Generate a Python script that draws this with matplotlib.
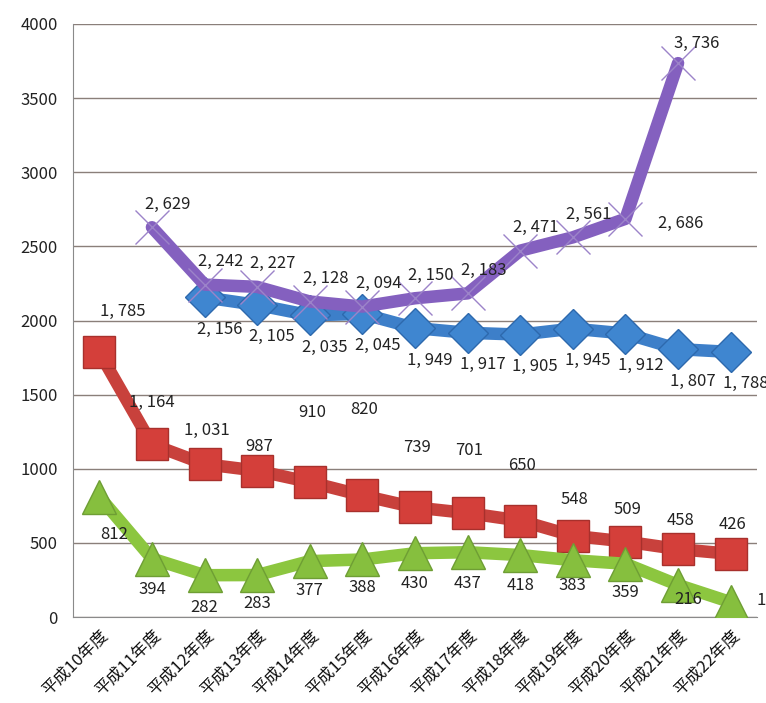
import numpy as np
import matplotlib
matplotlib.use("Agg")
import matplotlib.pyplot as plt

plt.rcParams['font.family'] = ['Noto Sans CJK JP', 'DejaVu Sans']

years = ["平成10年度", "平成11年度", "平成12年度", "平成13年度", "平成14年度",
         "平成15年度", "平成16年度", "平成17年度", "平成18年度", "平成19年度",
         "平成20年度", "平成21年度", "平成22年度"]

# None = no value that year
purple_vals = [None, 2629, 2242, 2227, 2128, 2094, 2150, 2183, 2471, 2561, 2686, 3736, None]
blue_vals = [None, None, 2156, 2105, 2035, 2045, 1949, 1917, 1905, 1945, 1912, 1807, 1788]
red_vals = [1785, 1164, 1031, 987, 910, 820, 739, 701, 650, 548, 509, 458, 426]
green_vals = [812, 394, 282, 283, 377, 388, 430, 437, 418, 383, 359, 216, 100]

# label offsets in pixels (dx, dy), hand placed like in the original
red_off = [(23, 41), (0, 42), (2, 34), (2, 24), (2, 70), (2, 86), (2, 60), (2, 63),
           (2, 55), (2, 36), (2, 32), (2, 29), (2, 29)]
green_off = [(15, -38), (0, -31), (0, -32), (0, -28), (0, -29), (0, -28), (0, -30),
             (0, -31), (0, -30), (0, -25), (0, -29), (10, -15), (40, 2)]

def fmt(v):
    return f"{v:,}".replace(",", ", ")

def series(vals):
    x = [i for i, v in enumerate(vals) if v is not None]
    y = [v for v in vals if v is not None]
    return np.array(x), np.array(y)

fig = plt.figure(figsize=(7.66, 7.03), dpi=100)
ax = fig.add_axes([73/766, 86/703, 684/766, 593/703])

ax.set_xlim(-0.5, len(years) - 0.5)
ax.set_ylim(0, 4000)
ax.set_yticks(np.arange(0, 4001, 500))
ax.yaxis.grid(True, color='#8a7f7a', lw=1.0)
ax.set_axisbelow(True)
for s in ['top', 'right']:
    ax.spines[s].set_visible(False)
ax.spines['left'].set_color('#8a8a8a')
ax.spines['bottom'].set_color('#8a8a8a')
ax.tick_params(length=0)
ax.tick_params(axis='y', labelsize=12, pad=11, labelcolor='#222222')
ax.tick_params(axis='x', pad=7)

ax.set_xticks(range(len(years)))
ax.set_xticklabels(years, rotation=45, ha='right', va='top',
                   rotation_mode='anchor', fontsize=12, color='#111111')

# red then green
x, y = series(red_vals)
ax.plot(x, y, color='#c8413c', lw=9, solid_capstyle='round', zorder=3)
ax.plot(x, y, ls='none', marker='s', ms=23, mfc='#d43f3a', mec='#a8302c', mew=1, zorder=4)
x, y = series(green_vals)
ax.plot(x, y, color='#8cc63f', lw=9, solid_capstyle='round', zorder=5)
ax.plot(x, y, ls='none', marker='^', ms=25, mfc='#86bf3e', mec='#6e9e34', mew=1, zorder=6)

# blue then purple
x, y = series(blue_vals)
ax.plot(x, y, color='#3d7fc9', lw=9, solid_capstyle='round', zorder=7)
ax.plot(x, y, ls='none', marker='D', ms=20, mfc='#3f86d0', mec='#2d69ad', mew=1, zorder=8)
x, y = series(purple_vals)
ax.plot(x, y, color='#8460bf', lw=9, solid_capstyle='round', zorder=9)
ax.plot(x, y, ls='none', marker='x', ms=24, mec='#9c83c9', mew=1, zorder=10)

lab_kw = dict(fontsize=12, color='#222222', ha='center', va='center',
              textcoords='offset pixels', zorder=20, clip_on=False)

for i, v in enumerate(purple_vals):
    if v is None:
        continue
    if i == 10:
        off = (55, -5)
    elif i == 11:
        off = (19, 20)
    else:
        off = (16, 23)
    ax.annotate(fmt(v), (i, v), xytext=off, **lab_kw)

for i, v in enumerate(blue_vals):
    if v is None:
        continue
    ax.annotate(fmt(v), (i, v), xytext=(15, -32), **lab_kw)

for i, v in enumerate(red_vals):
    ax.annotate(fmt(v), (i, v), xytext=red_off[i], **lab_kw)

for i, v in enumerate(green_vals):
    ax.annotate(fmt(v), (i, v), xytext=green_off[i], **lab_kw)

fig.savefig("out.png", dpi=100)
